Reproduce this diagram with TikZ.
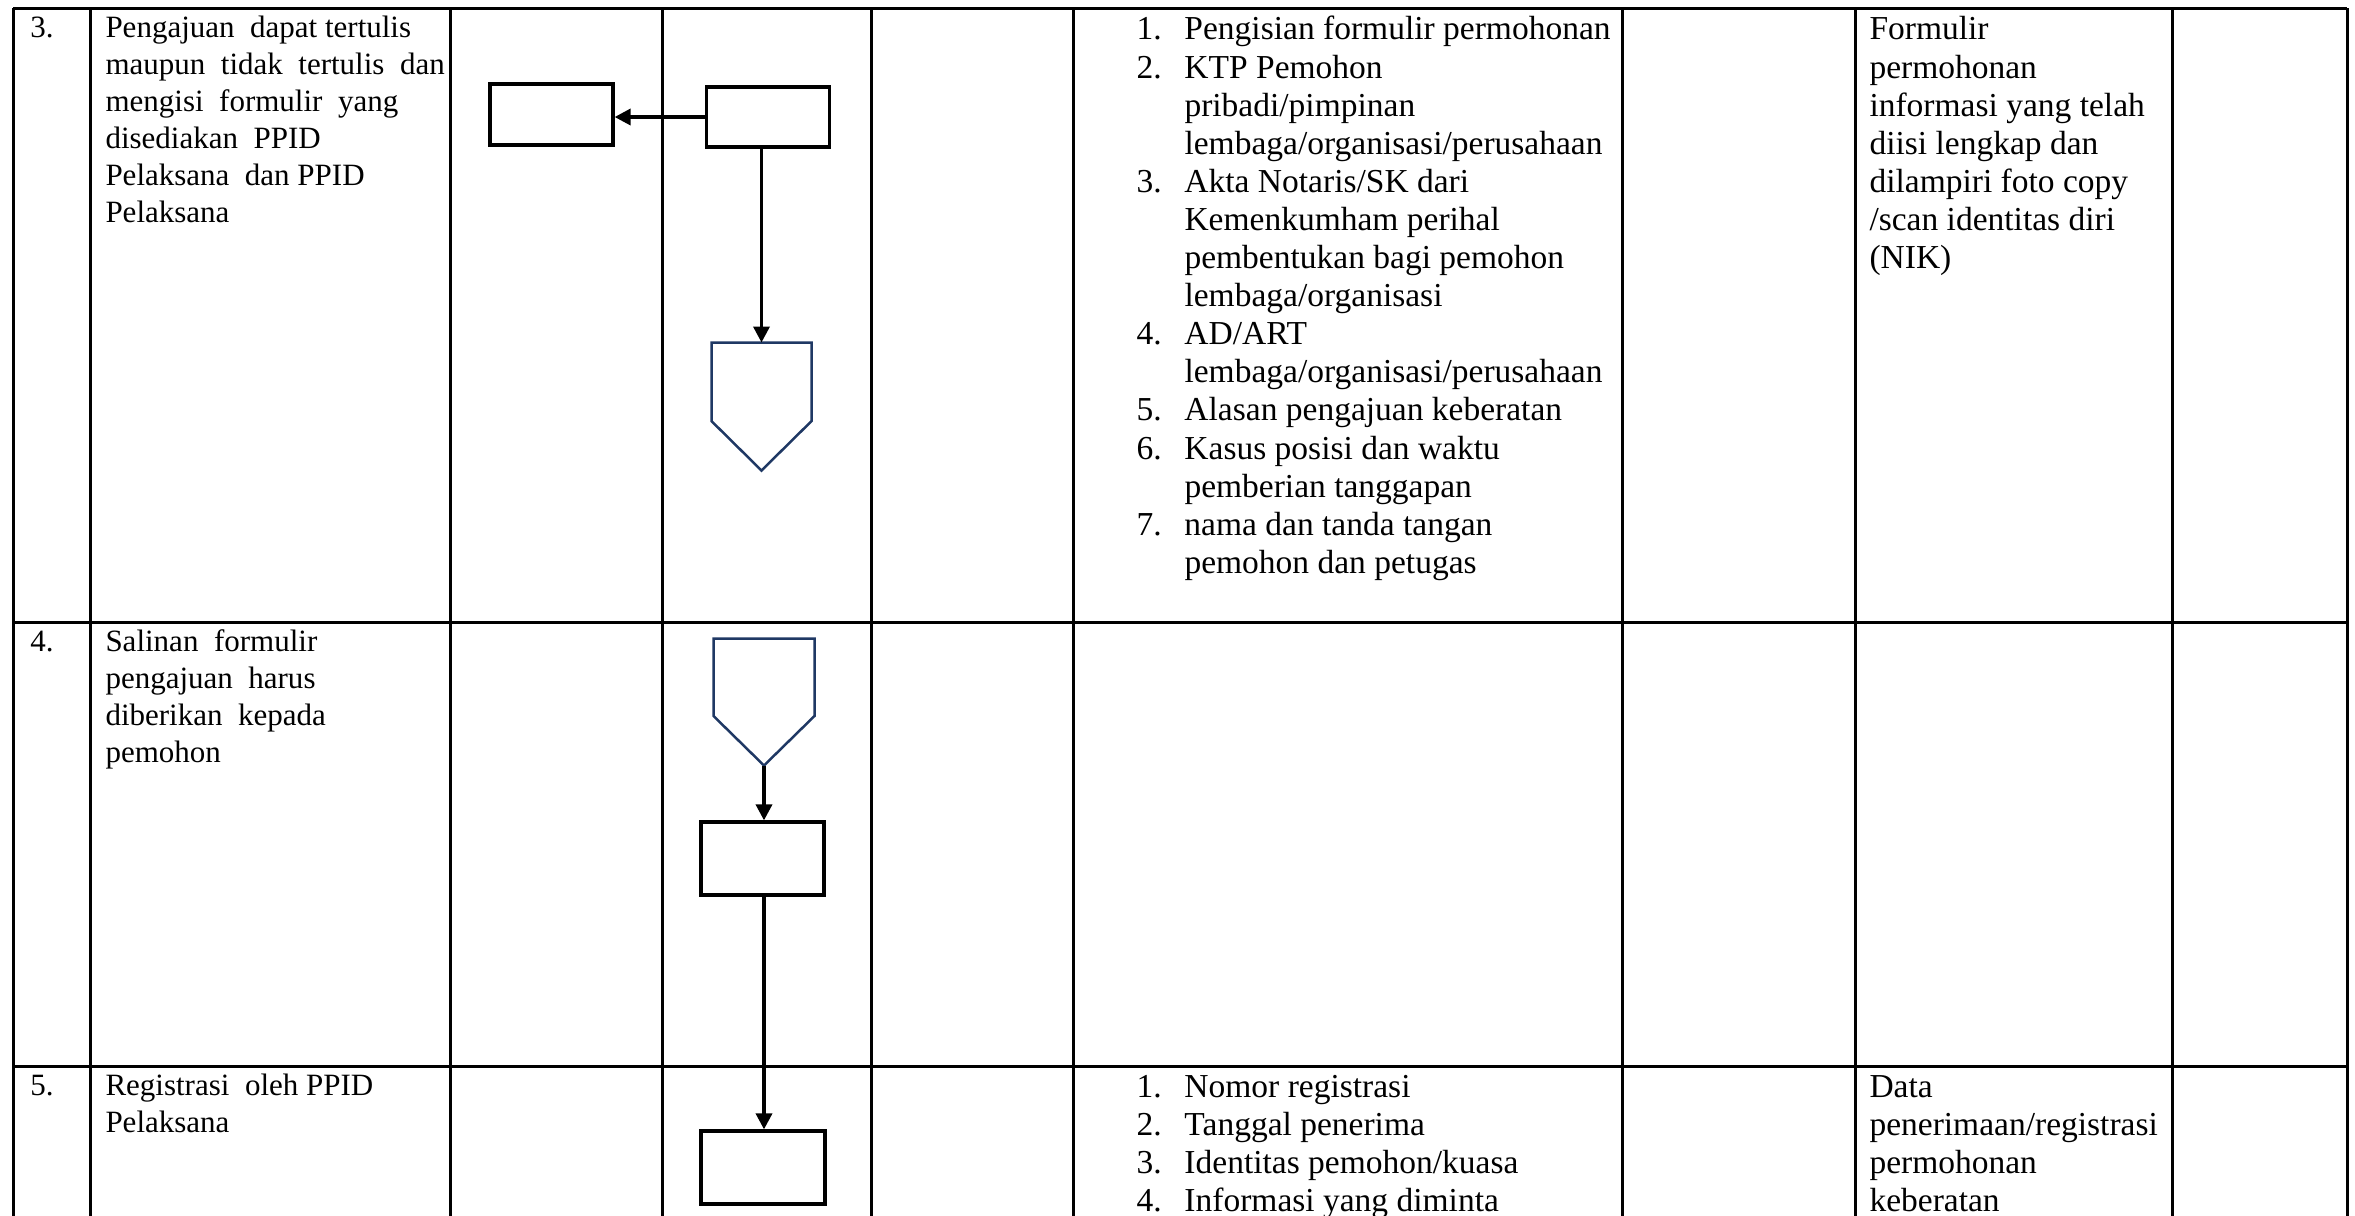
\documentclass[tikz,border=0pt]{standalone}
\usepackage{fontspec}
\setmainfont{Liberation Serif}
\usetikzlibrary{arrows.meta,calc}
\definecolor{navy}{HTML}{1F3864}
\newcommand{\numline}[2]{\makebox[19.2pt][l]{#1}#2}
\newcommand{\contline}[1]{\hspace*{19.2pt}#1}
\tikzset{
  gridline/.style={line width=1.2pt},
  flowbox/.style={draw, line width=1.3pt, rectangle, inner sep=0pt},
  pentframe/.style={rectangle, inner sep=0pt},
  pentline/.style={draw=navy, line width=1pt, line join=miter},
  flowarrow/.style={line width=1.4pt, -{Triangle[length=6.4pt,width=6.4pt]}},
  lefttext/.style={anchor=north west, inner sep=0pt, align=left, font=\fontsize{12.4pt}{14.8pt}\selectfont},
  listtext/.style={anchor=north west, inner sep=0pt, align=left, font=\fontsize{13.4pt}{15.24pt}\selectfont},
}
\begin{document}
\begin{tikzpicture}[x=0.4pt,y=-0.4pt]
\useasboundingbox (0,0) rectangle (2355,1215);
% table grid
\draw[gridline] (13,8) -- (2347,8);
\draw[gridline] (13,622) -- (2347,622);
\draw[gridline] (13,1066) -- (2347,1066);
\foreach \cx in {13,90,450,662,871,1073,1622,1855,2172,2347}
  \draw[gridline] (\cx,8) -- (\cx,1216);
% row numbers
\node[lefttext] (n3) at (30,10.6) {\strut 3.};
\node[lefttext] (n4) at (30,624.6) {\strut 4.};
\node[lefttext] (n5) at (30,1068.6) {\strut 5.};
% descriptions
\node[lefttext] (t3) at (105,10.6) {\strut Pengajuan\ \ dapat tertulis\\ maupun\ \ tidak\ \ tertulis\ \ dan\\ mengisi\ \ formulir\ \ yang\\ disediakan\ \ PPID\\ Pelaksana\ \ dan PPID\\ Pelaksana};
\node[lefttext] (t4) at (105,624.6) {\strut Salinan\ \ formulir\\ pengajuan\ \ harus\\ diberikan\ \ kepada\\ pemohon};
\node[lefttext] (t5) at (105,1068.6) {\strut Registrasi\ \ oleh PPID\\ Pelaksana};
% requirement lists
\node[listtext] (l3) at (1136,12.8) {\strut\numline{1.}{Pengisian formulir permohonan}\\
\numline{2.}{KTP Pemohon}\\
\contline{pribadi/pimpinan}\\
\contline{lembaga/organisasi/perusahaan}\\
\numline{3.}{Akta Notaris/SK dari}\\
\contline{Kemenkumham perihal}\\
\contline{pembentukan bagi pemohon}\\
\contline{lembaga/organisasi}\\
\numline{4.}{AD/ART}\\
\contline{lembaga/organisasi/perusahaan}\\
\numline{5.}{Alasan pengajuan keberatan}\\
\numline{6.}{Kasus posisi dan waktu}\\
\contline{pemberian tanggapan}\\
\numline{7.}{nama dan tanda tangan}\\
\contline{pemohon dan petugas}};
\node[listtext] (l5) at (1136,1070.3) {\strut\numline{1.}{Nomor registrasi}\\
\numline{2.}{Tanggal penerima}\\
\numline{3.}{Identitas pemohon/kuasa}\\
\numline{4.}{Informasi yang diminta}};
% outputs
\node[listtext] (o3) at (1869,12.8) {\strut Formulir\\ permohonan\\ informasi yang telah\\ diisi lengkap dan\\ dilampiri foto copy\\ /scan identitas diri\\ (NIK)};
\node[listtext] (o5) at (1869,1070.3) {\strut Data\\ penerimaan/registrasi\\ permohonan\\ keberatan};
% flow shapes
\node[flowbox, minimum width=49.2pt, minimum height=24.4pt] (b1) at (551.5,114.5) {};
\node[flowbox, minimum width=49.2pt, minimum height=24pt] (b2) at (768,117) {};
\node[pentframe, minimum width=39.6pt, minimum height=50.8pt] (p1) at (761.5,406.5) {};
\node[pentframe, minimum width=40pt, minimum height=50.4pt] (p2) at (764,702) {};
\node[flowbox, minimum width=49.2pt, minimum height=29.2pt] (b3) at (762.5,858.5) {};
\node[flowbox, minimum width=49.6pt, minimum height=29.2pt] (b4) at (763,1167.5) {};
\draw[pentline] (p1.north west) -- (p1.north east) -- ($(p1.north east)!0.614!(p1.south east)$) -- (p1.south) -- ($(p1.north west)!0.614!(p1.south west)$) -- cycle;
\draw[pentline] (p2.north west) -- (p2.north east) -- ($(p2.north east)!0.61!(p2.south east)$) -- (p2.south) -- ($(p2.north west)!0.61!(p2.south west)$) -- cycle;
% connectors
\draw[flowarrow] (b2.west) -- (b2.west -| b1.east);
\draw[flowarrow] (p1.north |- b2.south) -- (p1.north);
\draw[flowarrow] (p2.south) -- (p2.south |- b3.north);
\draw[flowarrow] (b3.south -| p2.south) -- (p2.south |- b4.north);
\end{tikzpicture}
\end{document}
